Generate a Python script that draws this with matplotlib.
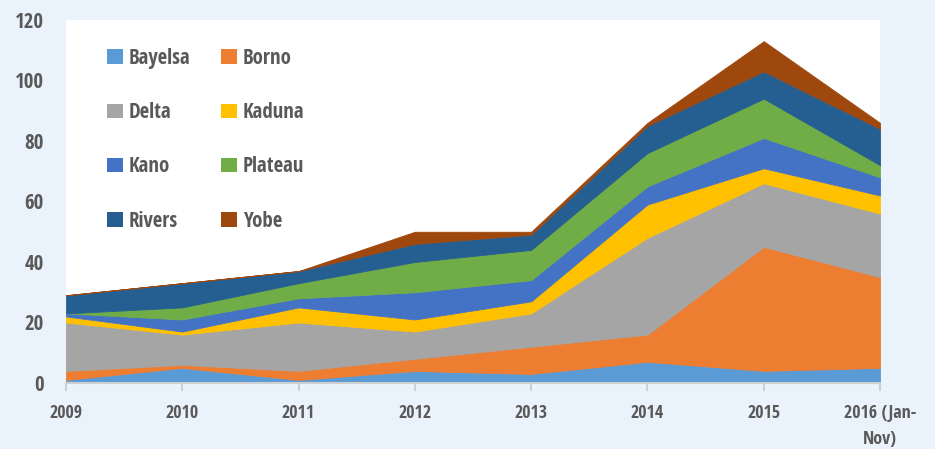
import matplotlib
matplotlib.use("Agg")
import matplotlib.pyplot as plt
from matplotlib.patches import Patch

plt.rcParams['font.family'] = ['Open Sans Condensed', 'Carlito', 'DejaVu Sans']

# Data
years = ['2009', '2010', '2011', '2012', '2013', '2014', '2015', '2016 (Jan-\nNov)']
states = ['Bayelsa', 'Borno', 'Delta', 'Kaduna', 'Kano', 'Plateau', 'Rivers', 'Yobe']
bayelsa = [1, 5, 1, 4, 3, 7, 4, 5]
borno = [3, 1, 3, 4, 9, 9, 41, 30]
delta = [16, 10, 16, 9, 11, 32, 21, 21]
kaduna = [2, 1, 5, 4, 4, 11, 5, 6]
kano = [1, 4, 3, 9, 7, 6, 10, 6]
plateau = [0, 4, 5, 10, 10, 11, 13, 4]
rivers = [6, 8, 4, 6, 5, 9, 9, 12]
yobe = [0, 0, 0, 4, 1, 1, 10, 2]
colors = ['#5B9BD5', '#ED7D31', '#A5A5A5', '#FFC000', '#4472C4', '#70AD47', '#255E91', '#9E480E']

bg = '#EAF3FC'
txt = '#595959'

fig = plt.figure(figsize=(9.35, 4.49), dpi=100, facecolor=bg)
ax = fig.add_axes([0.0706, 0.147, 0.8706, 0.8085])
ax.set_facecolor('white')

x = list(range(len(years)))
series = [bayelsa, borno, delta, kaduna, kano, plateau, rivers, yobe]
polys = ax.stackplot(x, *series, colors=colors, labels=states)
for p, c in zip(polys, colors):
    p.set_edgecolor(c)
    p.set_linewidth(0.6)

ax.set_xlim(0, len(years) - 1)
ax.set_ylim(0, 120)
ax.set_yticks(range(0, 121, 20))
ax.set_xticks(x)
ax.set_xticklabels(years)

for s in ['top', 'right', 'left']:
    ax.spines[s].set_visible(False)
ax.spines['bottom'].set_color('#D0D0D0')
ax.spines['bottom'].set_linewidth(1.5)
ax.tick_params(axis='y', length=0, pad=16, labelsize=15, labelcolor=txt)
ax.tick_params(axis='x', length=6, width=1.5, color='#D0D0D0', pad=9, labelsize=13, labelcolor=txt)
for lbl in ax.get_xticklabels() + ax.get_yticklabels():
    lbl.set_fontweight('bold')
    lbl.set_linespacing(1.55)

# legend laid out row by row
order = [0, 2, 4, 6, 1, 3, 5, 7]
handles = [Patch(facecolor=colors[i], edgecolor='none') for i in order]
labels = [states[i] for i in order]
leg = ax.legend(handles, labels, ncol=2, loc='upper left', bbox_to_anchor=(0.0275, 0.975),
                frameon=False, prop={'size': 15, 'weight': 'bold'},
                handlelength=0.75, handleheight=0.7, handletextpad=0.3,
                labelspacing=1.6, columnspacing=1.45)
for t in leg.get_texts():
    t.set_color(txt)

fig.savefig('out.png', dpi=100, facecolor=bg)
